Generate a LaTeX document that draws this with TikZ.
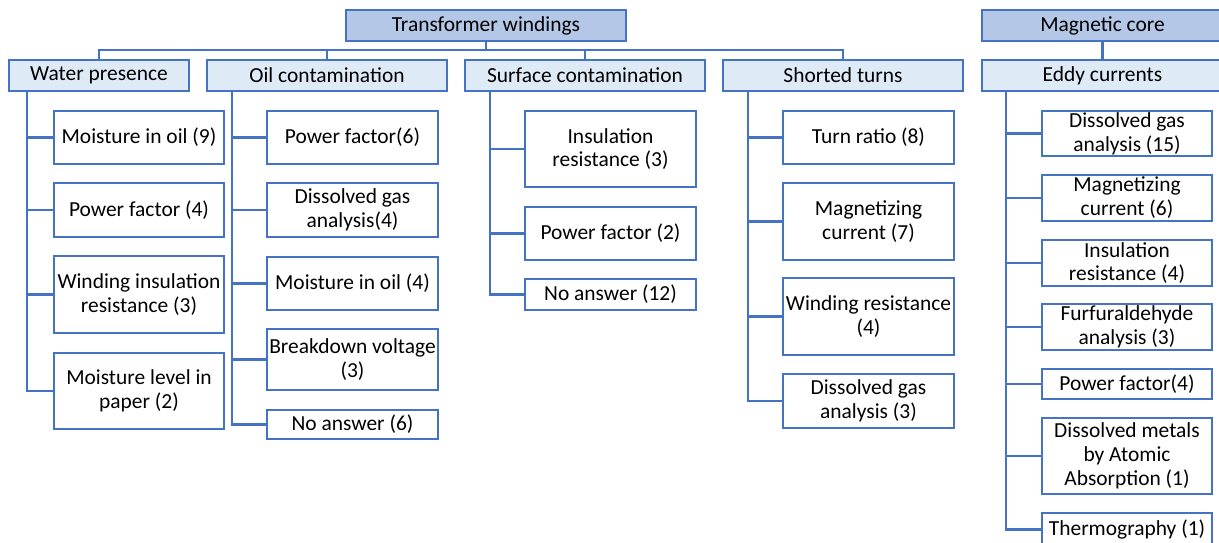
\documentclass[tikz,border=0pt]{standalone}
\usepackage{fontspec}
\setmainfont{Carlito}
\usepackage{tikz}

\definecolor{edgeblue}{HTML}{4472C4}
\definecolor{topfill}{HTML}{B4C7E7}
\definecolor{catfill}{HTML}{DEEBF7}

\tikzset{
  box/.style={draw=edgeblue, line width=1.5pt, inner sep=0pt, align=center,
    font=\fontsize{12.2}{13.6}\selectfont},
  topbox/.style={box, fill=topfill, minimum height=0.62cm},
  catbox/.style={box, fill=catfill, minimum height=0.62cm},
  leafbox/.style={box, fill=white, minimum width=3.42cm},
  link/.style={draw=edgeblue, line width=1.5pt}
}

\begin{document}
\begin{tikzpicture}
\useasboundingbox (0,0) rectangle (24.38,-10.86);

% top level
\node[topbox, minimum width=5.6cm] (tw) at (9.72,-0.51) {Transformer windings};
\node[topbox, minimum width=4.82cm] (mc) at (22.05,-0.51) {Magnetic core};

% categories
\node[catbox, minimum width=3.6cm] (wp) at (1.98,-1.51) {Water presence};
\node[catbox, minimum width=4.8cm] (oc) at (6.54,-1.51) {Oil contamination};
\node[catbox, minimum width=4.8cm] (sc) at (11.7,-1.51) {Surface contamination};
\node[catbox, minimum width=4.8cm] (st) at (16.86,-1.51) {Shorted turns};
\node[catbox, minimum width=4.82cm] (ec) at (22.05,-1.51) {Eddy currents};

% bus under transformer windings
\coordinate (bus) at (0,-1.0);
\draw[link] (tw.south) -- (tw.south |- bus);
\draw[link] (wp.north) -- (wp.north |- bus) -- (st.north |- bus) -- (st.north);
\foreach \c in {oc,sc}
  \draw[link] (\c.north) -- (\c.north |- bus);
\draw[link] (mc.south) -- (ec.north);

% water presence
\node[leafbox, minimum width=3.4cm, minimum height=1.06cm] (wp1) at (2.78,-2.75) {Moisture in oil (9)};
\node[leafbox, minimum width=3.4cm, minimum height=1.08cm] (wp2) at (2.78,-4.2) {Power factor (4)};
\node[leafbox, minimum width=3.4cm, minimum height=1.54cm] (wp3) at (2.78,-5.89) {Winding insulation\\resistance (3)};
\node[leafbox, minimum width=3.4cm, minimum height=1.52cm] (wp4) at (2.78,-7.82) {Moisture level in\\paper (2)};

% oil contamination
\node[leafbox, minimum height=1.06cm] (oc1) at (7.05,-2.75) {Power factor(6)};
\node[leafbox, minimum height=1.08cm] (oc2) at (7.05,-4.2) {Dissolved gas\\analysis(4)};
\node[leafbox, minimum height=1.06cm] (oc3) at (7.05,-5.67) {Moisture in oil (4)};
\node[leafbox, minimum height=1.22cm] (oc4) at (7.05,-7.19) {Breakdown voltage\\(3)};
\node[leafbox, minimum height=0.58cm] (oc5) at (7.05,-8.49) {No answer (6)};

% surface contamination
\node[leafbox, minimum height=1.52cm] (sc1) at (12.21,-2.98) {Insulation\\resistance (3)};
\node[leafbox, minimum height=1.06cm] (sc2) at (12.21,-4.67) {Power factor (2)};
\node[leafbox, minimum height=0.62cm] (sc3) at (12.21,-5.89) {No answer (12)};

% shorted turns
\node[leafbox, minimum height=1.06cm] (st1) at (17.37,-2.75) {Turn ratio (8)};
\node[leafbox, minimum height=1.54cm] (st2) at (17.37,-4.43) {Magnetizing\\current (7)};
\node[leafbox, minimum height=1.54cm] (st3) at (17.37,-6.33) {Winding resistance\\(4)};
\node[leafbox, minimum height=1.08cm] (st4) at (17.37,-8.02) {Dissolved gas\\analysis (3)};

% eddy currents
\node[leafbox, minimum width=3.4cm, minimum height=0.9cm] (ec1) at (22.54,-2.67) {Dissolved gas\\analysis (15)};
\node[leafbox, minimum width=3.4cm, minimum height=0.92cm] (ec2) at (22.54,-3.96) {Magnetizing\\current (6)};
\node[leafbox, minimum width=3.4cm, minimum height=0.92cm] (ec3) at (22.54,-5.26) {Insulation\\resistance (4)};
\node[leafbox, minimum width=3.4cm, minimum height=0.92cm] (ec4) at (22.54,-6.54) {Furfuraldehyde\\analysis (3)};
\node[leafbox, minimum width=3.4cm, minimum height=0.6cm] (ec5) at (22.54,-7.68) {Power factor(4)};
\node[leafbox, minimum width=3.4cm, minimum height=1.52cm] (ec6) at (22.54,-9.12) {Dissolved metals\\by Atomic\\Absorption (1)};
\node[leafbox, minimum width=3.4cm, minimum height=0.66cm] (ec7) at (22.54,-10.59) {Thermography (1)};

% trunks and branches
\coordinate (wpT) at (0.54,-1.51);
\coordinate (ocT) at (4.64,-1.51);
\coordinate (scT) at (9.8,-1.51);
\coordinate (stT) at (14.96,-1.51);
\coordinate (ecT) at (20.12,-1.51);
\draw[link] (wpT |- wp.south) |- (wp4.west);
\draw[link] (ocT |- oc.south) |- (oc5.west);
\draw[link] (scT |- sc.south) |- (sc3.west);
\draw[link] (stT |- st.south) |- (st4.west);
\draw[link] (ecT |- ec.south) |- (ec7.west);
\foreach \n in {1,2,3}
  \draw[link] (wpT |- wp\n.west) -- (wp\n.west);
\foreach \n in {1,...,4}
  \draw[link] (ocT |- oc\n.west) -- (oc\n.west);
\foreach \n in {1,2}
  \draw[link] (scT |- sc\n.west) -- (sc\n.west);
\foreach \n in {1,2,3}
  \draw[link] (stT |- st\n.west) -- (st\n.west);
\foreach \n in {1,...,6}
  \draw[link] (ecT |- ec\n.west) -- (ec\n.west);
\end{tikzpicture}
\end{document}
